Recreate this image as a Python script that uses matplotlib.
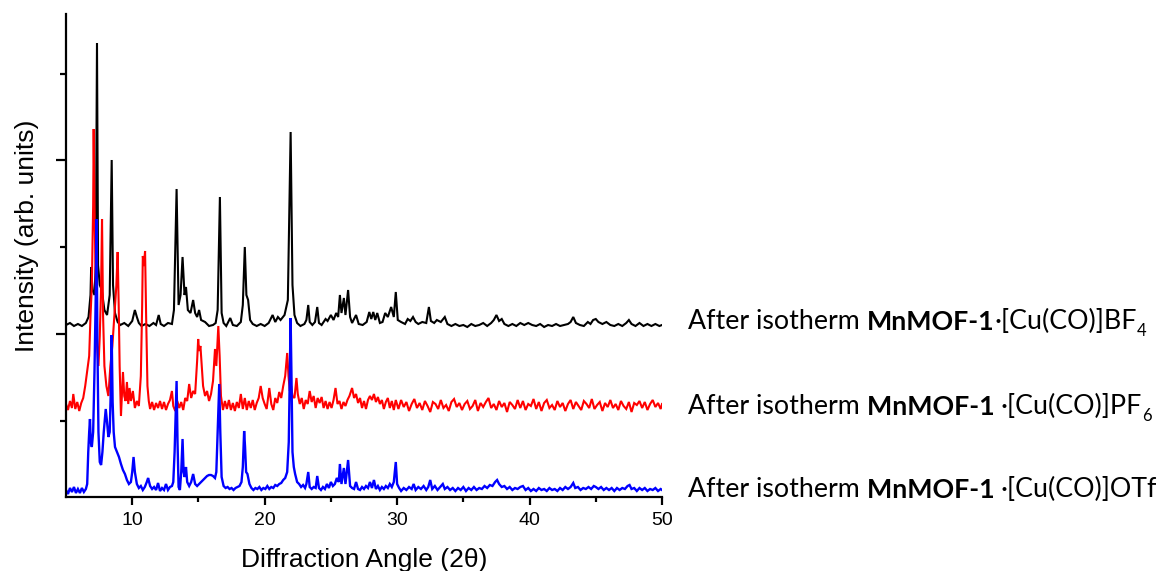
import matplotlib
matplotlib.use("Agg")
import matplotlib.pyplot as plt

# PXRD patterns (intensity relative to each trace's own baseline)
bf4_angle = [5.0, 5.3, 5.6, 5.9, 6.2, 6.5, 6.7, 6.85, 6.9, 7.0, 7.15, 7.25, 7.34, 7.42, 7.55, 7.7, 7.9, 8.1, 8.3, 8.45,
             8.55, 8.7, 8.9, 9.1, 9.4, 9.7, 10.0, 10.2, 10.35, 10.5, 10.7, 11.0, 11.3, 11.6, 11.8, 12.0, 12.15, 12.4,
             12.7, 13.0, 13.15, 13.35, 13.5, 13.65, 13.8, 13.95, 14.06, 14.2, 14.4, 14.6, 14.75, 14.9, 15.05, 15.2,
             15.5, 15.8, 16.1, 16.3, 16.45, 16.62, 16.75, 16.9, 17.1, 17.4, 17.6, 17.9, 18.2, 18.35, 18.5, 18.62,
             18.75, 18.9, 19.1, 19.4, 19.7, 20.0, 20.3, 20.6, 20.8, 21.0, 21.2, 21.5, 21.75, 21.96, 22.1, 22.25,
             22.45, 22.7, 23.0, 23.15, 23.29, 23.4, 23.6, 23.8, 23.97, 24.1, 24.3, 24.6, 24.75, 25.0, 25.2, 25.4,
             25.55, 25.68, 25.8, 25.98, 26.1, 26.3, 26.45, 26.6, 26.9, 27.1, 27.4, 27.7, 27.9, 28.05, 28.2, 28.35,
             28.5, 28.7, 28.9, 29.1, 29.3, 29.55, 29.75, 29.9, 30.05, 30.3, 30.6, 30.8, 31.0, 31.2, 31.4, 31.6, 31.9,
             32.2, 32.4, 32.55, 32.8, 33.0, 33.3, 33.6, 33.8, 34.1, 34.4, 34.7, 35.0, 35.3, 35.6, 35.9, 36.2, 36.5,
             36.8, 37.1, 37.3, 37.5, 37.7, 37.9, 38.1, 38.4, 38.7, 39.0, 39.3, 39.6, 39.9, 40.2, 40.5, 40.8, 41.1,
             41.4, 41.7, 42.0, 42.3, 42.6, 42.9, 43.1, 43.3, 43.5, 43.8, 44.1, 44.4, 44.6, 44.8, 45.0, 45.2, 45.5,
             45.8, 46.1, 46.4, 46.7, 47.0, 47.3, 47.5, 47.7, 48.0, 48.3, 48.6, 48.9, 49.2, 49.5, 49.8, 50.0]
bf4_int = [0, 2, -1, 1, -1, 2, 8, 30, 58, 35, 30, 60, 282, 60, 40, 35, 15, 10, 30, 165,
           40, 12, 3, 0, 2, -1, 4, 15, 8, 2, -1, 1, -1, 2, 0, 10, 1, -1,
           2, 1, 15, 136, 20, 30, 68, 30, 38, 15, 12, 25, 12, 8, 15, 5,
           3, -1, 0, 2, 15, 128, 12, 2, -1, 7, 0, -1, 3, 20, 78, 30,
           25, 5, 1, -1, 1, -1, 2, 10, 3, 8, 5, 10, 25, 193, 40, 10,
           2, -1, 1, 5, 20, 3, 0, 3, 18, 2, 0, 6, 4, 10, 5, 12,
           8, 30, 12, 27, 10, 35, 8, 2, 10, 1, 0, 3, 13, 6, 13, 5,
           12, 2, 3, 12, 8, 18, 8, 33, 5, 3, 1, 6, 4, 8, 3, 1, 3,
           2, 18, 4, 2, 5, 3, 8, 1, -1, 1, -1, 0, -2, 1, -1, 0, 2,
           -1, 2, 5, 10, 4, 6, 1, -1, 1, -1, 2, 0, 2, 0, -1, 1, -2,
           0, -1, 1, -1, 0, 1, 3, 8, 2, 0, -1, 3, 1, 5, 6, 3, 1,
           3, 0, -1, 1, -1, 2, 5, 1, -1, 2, -1, 1, -1, 1, -1, 0]

pf6_angle_low = [5.0, 5.15, 5.3, 5.45, 5.55, 5.7, 5.85, 6.0, 6.15, 6.3, 6.45, 6.6, 6.75, 6.85, 6.95, 7.05, 7.09, 7.15,
                 7.25, 7.35, 7.45, 7.55, 7.65, 7.72, 7.8, 7.9, 8.05, 8.2, 8.35, 8.5, 8.65, 8.8, 8.9, 8.98, 9.05, 9.15,
                 9.3, 9.4, 9.5, 9.6, 9.7, 9.8, 9.9, 10.05, 10.2, 10.35, 10.5, 10.65, 10.75, 10.8, 10.88, 10.97, 11.05,
                 11.15, 11.25, 11.35, 11.5, 11.65, 11.8, 11.95, 12.1, 12.25, 12.4, 12.55, 12.7, 12.85, 13.0, 13.1,
                 13.25, 13.4, 13.55, 13.7, 13.85, 14.0, 14.15, 14.3, 14.45, 14.6, 14.75, 14.9, 14.98, 15.05, 15.15,
                 15.25, 15.35, 15.5, 15.65, 15.8, 15.95, 16.1, 16.25, 16.35, 16.5, 16.6, 16.7, 16.85, 17.0, 17.15,
                 17.3, 17.45, 17.6, 17.75, 17.9, 18.05, 18.2, 18.35, 18.5, 18.65, 18.8, 18.95, 19.1, 19.25, 19.4,
                 19.55, 19.7, 19.85, 20.0, 20.15, 20.35, 20.5, 20.65, 20.8, 20.95, 21.1, 21.25, 21.4, 21.55, 21.7,
                 21.8, 21.9, 22.0, 22.1, 22.25, 22.4, 22.5, 22.65, 22.8, 22.95, 23.1, 23.25, 23.4, 23.55, 23.7, 23.85,
                 24.0, 24.15, 24.3, 24.45, 24.6, 24.75, 24.9, 25.05, 25.2, 25.35, 25.5, 25.65, 25.8, 25.95, 26.1,
                 26.25, 26.4, 26.6, 26.75, 26.9, 27.05, 27.2, 27.35, 27.5, 27.65, 27.8, 27.95, 28.1, 28.25, 28.4,
                 28.55, 28.7, 28.85, 29.0, 29.15, 29.3, 29.45, 29.6, 29.75, 29.9]
pf6_int_low = [2, -4, 5, -2, 12, -3, 4, -5, 3, 8, 20, 35, 50, 90, 120, 200, 277, 200,
               120, 60, 40, 70, 120, 187, 90, 40, 20, 10, 40, 60, 90, 120, 154, 100, 40, -10,
               34, 10, 5, 24, 2, 18, 5, 15, -2, 5, 0, 30, 100, 150, 140, 155, 90,
               20, 5, -3, 4, -4, 3, -2, 5, -3, 4, -4, 2, 6, 15, 0,
               -5, 5, -2, 4, -4, 8, 5, 22, 8, 15, 12, 45, 67, 55, 60,
               40, 20, 10, 15, 5, 12, 25, 57, 40, 80, 50, 10, -4, 5, -3,
               6, -4, 3, -5, 4, -2, 12, -3, 8, -4, 5, -2, 6, -4, 3,
               8, 20, 8, 2, -3, 18, 2, -4, 8, 3, 14, 8, 20, 30, 53,
               30, 15, 20, 10, 8, 28, 12, 2, 8, -3, 6, 2, 15, 4, 10, -2,
               8, 3, 9, -2, 5, -3, 4, -2, 6, 18, 2, 5, -3, 4, 0,
               6, 10, 18, 8, 12, 3, 8, -2, 5, -3, 6, 10, 6, 12, 4,
               9, 2, 6, -3, 4, 8, -2, 5, -4, 6]
pf6_angle_high = [30.1, 30.3, 30.5, 30.7, 30.9, 31.1, 31.3, 31.5, 31.7, 31.9, 32.1, 32.3, 32.5, 32.7, 32.9,
                  33.1, 33.3, 33.5, 33.7, 33.9, 34.1, 34.3, 34.5, 34.7, 34.9, 35.1, 35.3, 35.5, 35.7, 35.9,
                  36.1, 36.3, 36.5, 36.7, 36.9, 37.1, 37.3, 37.5, 37.7, 37.9, 38.1, 38.3, 38.5, 38.7, 38.9,
                  39.1, 39.3, 39.5, 39.7, 39.9, 40.1, 40.3, 40.5, 40.7, 40.9, 41.1, 41.3, 41.5, 41.7, 41.9,
                  42.1, 42.3, 42.5, 42.7, 42.9, 43.1, 43.3, 43.5, 43.7, 43.9, 44.1, 44.3, 44.5, 44.7, 44.9,
                  45.1, 45.3, 45.5, 45.7, 45.9, 46.1, 46.3, 46.5, 46.7, 46.9, 47.1, 47.3, 47.5, 47.7, 47.9,
                  48.1, 48.3, 48.5, 48.7, 48.9, 49.1, 49.3, 49.5, 49.7, 49.9, 50.0]
pf6_int_high = [-3, 6, -1, 4, -5, 2, 7, -2, 3, -4, 5, 0, -6, 4, 2,
                -3, 6, -2, 1, -5, 4, 7, -1, 3, -4, 2, 5, -3, 0, 6,
                -5, 3, -1, 4, 8, -2, 2, -4, 5, -1, 3, -6, 4, 1, -3,
                6, -2, 5, -4, 2, 0, 7, -3, 4, -5, 3, 6, -2, 1, -4,
                5, -1, 3, -5, 2, 6, -3, 4, 0, -4, 5, 2, -2, 7, -3,
                1, 4, -5, 3, -1, 6, -2, 2, -4, 5, 0, -3, 4, -6, 3,
                1, 5, -2, 4, -4, 2, 6, -1, 3, -3, 2]
pf6_angle = pf6_angle_low + pf6_angle_high
pf6_int = pf6_int_low + pf6_int_high

otf_angle = [5.0, 5.15, 5.3, 5.45, 5.6, 5.75, 5.9, 6.05, 6.2, 6.35, 6.5, 6.6, 6.68, 6.75, 6.81, 6.87, 6.95, 7.05,
             7.15, 7.25, 7.31, 7.37, 7.45, 7.55, 7.65, 7.75, 7.85, 7.95, 8.0, 8.1, 8.2, 8.3, 8.38, 8.45, 8.52, 8.6,
             8.7, 8.85, 9.0, 9.15, 9.3, 9.45, 9.6, 9.75, 9.9, 10.0, 10.1, 10.2, 10.35, 10.5, 10.65, 10.8, 10.95,
             11.1, 11.2, 11.35, 11.5, 11.65, 11.8, 11.95, 12.1, 12.25, 12.4, 12.55, 12.7, 12.85, 13.0, 13.1, 13.2,
             13.3, 13.35, 13.42, 13.5, 13.6, 13.7, 13.8, 13.88, 13.96, 14.06, 14.15, 14.3, 14.45, 14.6, 14.75,
             14.9, 15.05, 15.2, 15.35, 15.5, 15.65, 15.8, 15.95, 16.1, 16.25, 16.35, 16.45, 16.57, 16.65, 16.75,
             16.9, 17.05, 17.2, 17.35, 17.5, 17.65, 17.8, 17.95, 18.1, 18.25, 18.35, 18.45, 18.52, 18.6, 18.7,
             18.85, 19.0, 19.15, 19.3, 19.45, 19.6, 19.75, 19.9, 20.05, 20.2, 20.35, 20.5, 20.65, 20.8, 20.95,
             21.1, 21.25, 21.4, 21.55, 21.7, 21.82, 21.9, 21.96, 22.02, 22.1, 22.2, 22.3, 22.45, 22.6, 22.75,
             22.9, 23.05, 23.15, 23.29, 23.4, 23.55, 23.7, 23.85, 23.97, 24.1, 24.25, 24.4, 24.55, 24.7, 24.85,
             25.0, 25.15, 25.3, 25.45, 25.6, 25.68, 25.8, 25.98, 26.1, 26.3, 26.45, 26.6, 26.75, 26.9, 27.05,
             27.2, 27.35, 27.5, 27.65, 27.8, 27.95, 28.1, 28.25, 28.4, 28.55, 28.7, 28.85, 29.0, 29.15, 29.3,
             29.45, 29.6, 29.75, 29.9, 30.0, 30.15, 30.3, 30.5, 30.7, 30.9, 31.1, 31.25, 31.4, 31.6, 31.8, 32.0,
             32.2, 32.35, 32.5, 32.65, 32.85, 33.05, 33.25, 33.45, 33.6, 33.8, 34.0, 34.2, 34.4, 34.6, 34.8, 35.0,
             35.2, 35.4, 35.6, 35.8, 36.0, 36.2, 36.4, 36.6, 36.8, 37.0, 37.2, 37.4, 37.55, 37.7, 37.9, 38.1,
             38.3, 38.5, 38.7, 38.9, 39.1, 39.3, 39.5, 39.7, 39.9, 40.1, 40.3, 40.5, 40.7, 40.9, 41.1, 41.3,
             41.5, 41.7, 41.9, 42.1, 42.3, 42.5, 42.7, 42.9, 43.1, 43.3, 43.45, 43.65, 43.85, 44.05, 44.25,
             44.45, 44.65, 44.85, 45.0, 45.2, 45.4, 45.6, 45.8, 46.0, 46.2, 46.4, 46.6, 46.8, 47.0, 47.2, 47.4,
             47.55, 47.7, 47.9, 48.1, 48.3, 48.5, 48.7, 48.9, 49.1, 49.3, 49.5, 49.7, 49.9, 50.0]
otf_int = [2, -2, 4, 0, 5, -1, 3, -1, 4, 0, 3, 8, 40, 60, 73, 50, 45, 60,
           120, 200, 273, 150, 60, 30, 27, 40, 60, 75, 83, 70, 55, 60, 100, 157, 90, 60,
           45, 40, 35, 28, 22, 18, 12, 8, 10, 20, 35, 20, 8, 4, 6, 2, 5,
           10, 14, 6, 3, 5, 2, 9, 1, 4, 2, 8, 2, 5, 6, 10, 40,
           90, 111, 50, 5, 2, 20, 53, 20, 15, 25, 10, 6, 10, 18, 8,
           6, 8, 10, 12, 14, 16, 17, 17, 16, 14, 20, 60, 108, 60, 15,
           6, 4, 5, 3, 4, 2, 4, 5, 6, 10, 25, 61, 45, 20, 18,
           8, 4, 2, 4, 3, 5, 2, 4, 3, 6, 3, 5, 4, 7, 6,
           8, 9, 12, 14, 20, 50, 120, 174, 120, 40, 25, 18, 10, 8, 5,
           7, 4, 8, 20, 5, 3, 5, 4, 16, 4, 2, 5, 3, 8, 4,
           10, 6, 8, 14, 10, 28, 8, 24, 8, 32, 6, 4, 3, 10, 3,
           2, 5, 3, 6, 4, 10, 4, 12, 3, 6, 2, 5, 3, 6, 4,
           8, 5, 10, 30, 8, 4, 1, 4, 2, 5, 3, 8, 2, 5, 3, 6,
           2, 5, 12, 3, 6, 2, 5, 8, 3, 5, 2, 4, 1, 4, 2, 5,
           1, 4, 2, 5, 2, 4, 3, 6, 4, 7, 6, 10, 12, 8, 5, 6,
           3, 5, 2, 4, 3, 5, 6, 2, 4, 1, 3, 1, 4, 2, 3, 1,
           4, 2, 3, 1, 4, 2, 5, 3, 5, 9, 4, 5, 2, 4, 3,
           5, 3, 6, 5, 3, 5, 2, 4, 2, 4, 1, 4, 2, 4, 3, 6,
           7, 3, 4, 1, 4, 2, 4, 1, 3, 2, 4, 1, 3, 2]

series_angle = [bf4_angle, pf6_angle, otf_angle]
series_int = [bf4_int, pf6_int, otf_int]
offsets = [172, 91, 5]
colors = ['black', '#ff0000', '#0000ff']
widths = [1.5, 1.5, 1.7]
tails = ['', ' ', ' ']
anions = [('BF', '4'), ('PF', '6'), ('OTf', '')]
label_base_px = [329, 414, 497]

W, H = 1161, 571
fig = plt.figure(figsize=(W / 100, H / 100), dpi=100)
ax = fig.add_axes([66 / W, 1 - 497 / H, 596 / W, 483 / H])

for ang, inten, off, c, lw in zip(series_angle, series_int, offsets, colors, widths):
    ax.plot(ang, [v + off for v in inten], color=c, lw=lw, solid_joinstyle='miter')

ax.set_xlim(5, 50)
ax.set_ylim(0, 483)
for s in ['top', 'right']:
    ax.spines[s].set_visible(False)
for s in ['left', 'bottom']:
    ax.spines[s].set_linewidth(1.6)

ax.set_xticks([10, 20, 30, 40, 50])
ax.set_xticks([15, 25, 35, 45], minor=True)
ax.set_yticks([163, 337])
ax.set_yticks([76, 250, 423], minor=True)
ax.set_yticklabels([])
ax.tick_params(axis='x', which='major', direction='out', length=6, width=1.6, pad=5)
ax.tick_params(axis='x', which='minor', direction='out', length=3.5, width=1.6)
ax.tick_params(axis='y', which='major', direction='out', length=7, width=1.6)
ax.tick_params(axis='y', which='minor', direction='out', length=4.5, width=1.6)
ax.set_xticklabels(['10', '20', '30', '40', '50'], fontsize=14, fontfamily='Liberation Sans')

fig.text(364 / W, 1 - 567 / H, 'Diffraction Angle (2θ)', ha='center', va='baseline',
         fontsize=19, fontfamily='Liberation Sans')
fig.text(27 / W, 1 - 236 / H, 'Intensity (arb. units)', rotation=90, ha='center', va='center',
         fontsize=19, fontfamily='Liberation Sans')

# sample labels to the right of each trace
fs = 19.3
for yb, tail, (an, sub) in zip(label_base_px, tails, anions):
    t1 = fig.text(688 / W, 1 - yb / H, 'After isotherm ', fontsize=fs, fontfamily='Lato', va='baseline')
    t2 = ax.annotate('MnMOF-1' + tail, xy=(1, 0), xycoords=t1, va='bottom', ha='left',
                     fontsize=fs, fontfamily='Lato', fontweight='bold', annotation_clip=False)
    t3 = ax.annotate('·[Cu(CO)]' + an, xy=(1, 0), xycoords=t2, va='bottom', ha='left',
                     fontsize=fs, fontfamily='Lato', annotation_clip=False)
    if sub:
        ax.annotate(sub, xy=(1, 0), xycoords=t3, xytext=(0, -3.5), textcoords='offset points',
                    va='bottom', ha='left', fontsize=fs * 0.62, fontfamily='Lato', annotation_clip=False)

fig.savefig('out.png', dpi=100)
